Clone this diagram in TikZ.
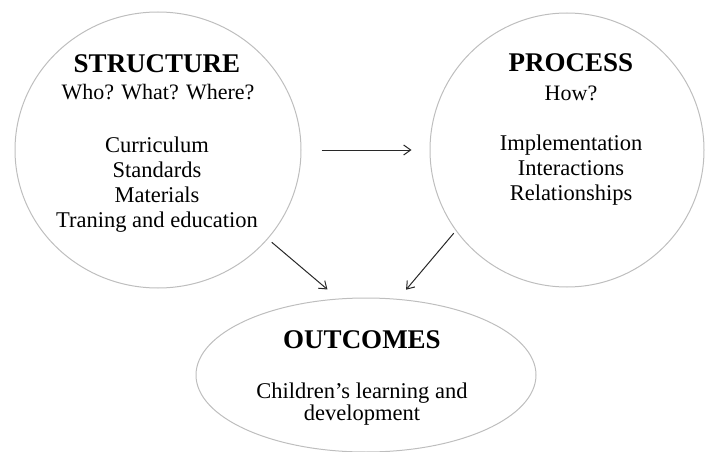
\documentclass[tikz,border=0pt]{standalone}
\usepackage{fontspec}
\setmainfont{Liberation Serif}
\usetikzlibrary{shapes.geometric,arrows.meta,positioning}
\definecolor{rimcolor}{RGB}{190,190,190}
\definecolor{inkcolor}{RGB}{40,40,40}

\begin{document}
\begin{tikzpicture}[x=1pt, y=1pt,
    blob/.style={ellipse, draw=rimcolor, line width=1pt, inner sep=0pt},
    heading/.style={anchor=base, font=\fontsize{27}{30}\selectfont\bfseries},
    subline/.style={anchor=base, font=\fontsize{22}{25}\selectfont},
    items/.style={anchor=base, align=center, font=\fontsize{22.5}{25}\selectfont},
    arrow/.style={-{Straight Barb[length=7pt,width=10pt]}, line width=1pt, draw=inkcolor}
]
\useasboundingbox (0,0) rectangle (705,451);

% Structure
\node[blob, minimum width=286pt, minimum height=276pt] (struct) at (158,301) {};
\node[heading] (structhead) at (157,378) {STRUCTURE};
\node[subline] (structsub) at (158,352) {Who? What? Where?};
% base of a multi-line node = its last line
\node[items] (structlist) at (157,224) {Curriculum\\Standards\\Materials\\Traning and education};

% Process
\node[blob, minimum width=274pt, minimum height=274pt] (proc) at (567,301) {};
\node[heading] (prochead) at (571,379) {PROCESS};
\node[subline] (procsub) at (571,350) {How?};
\node[items] (proclist) at (571,251) {Implementation\\Interactions\\Relationships};

% Outcomes
\node[blob, minimum width=340pt, minimum height=154pt] (outc) at (366,76) {};
\node[heading] (outchead) at (362,103) {OUTCOMES};
\node[items, font=\fontsize{22.5}{22}\selectfont] (outclist) at (362,31) {Children's learning and\\development};

% Arrows
\draw[arrow, shorten <=20pt, shorten >=18pt] (struct.east) -- (proc.west);
\draw[arrow, shorten <=5pt, shorten >=14pt] (struct.-39) -- (outc.110.5);
\draw[arrow, shorten <=3pt, shorten >=12pt] (proc.216) -- (outc.67);

\end{tikzpicture}
\end{document}
